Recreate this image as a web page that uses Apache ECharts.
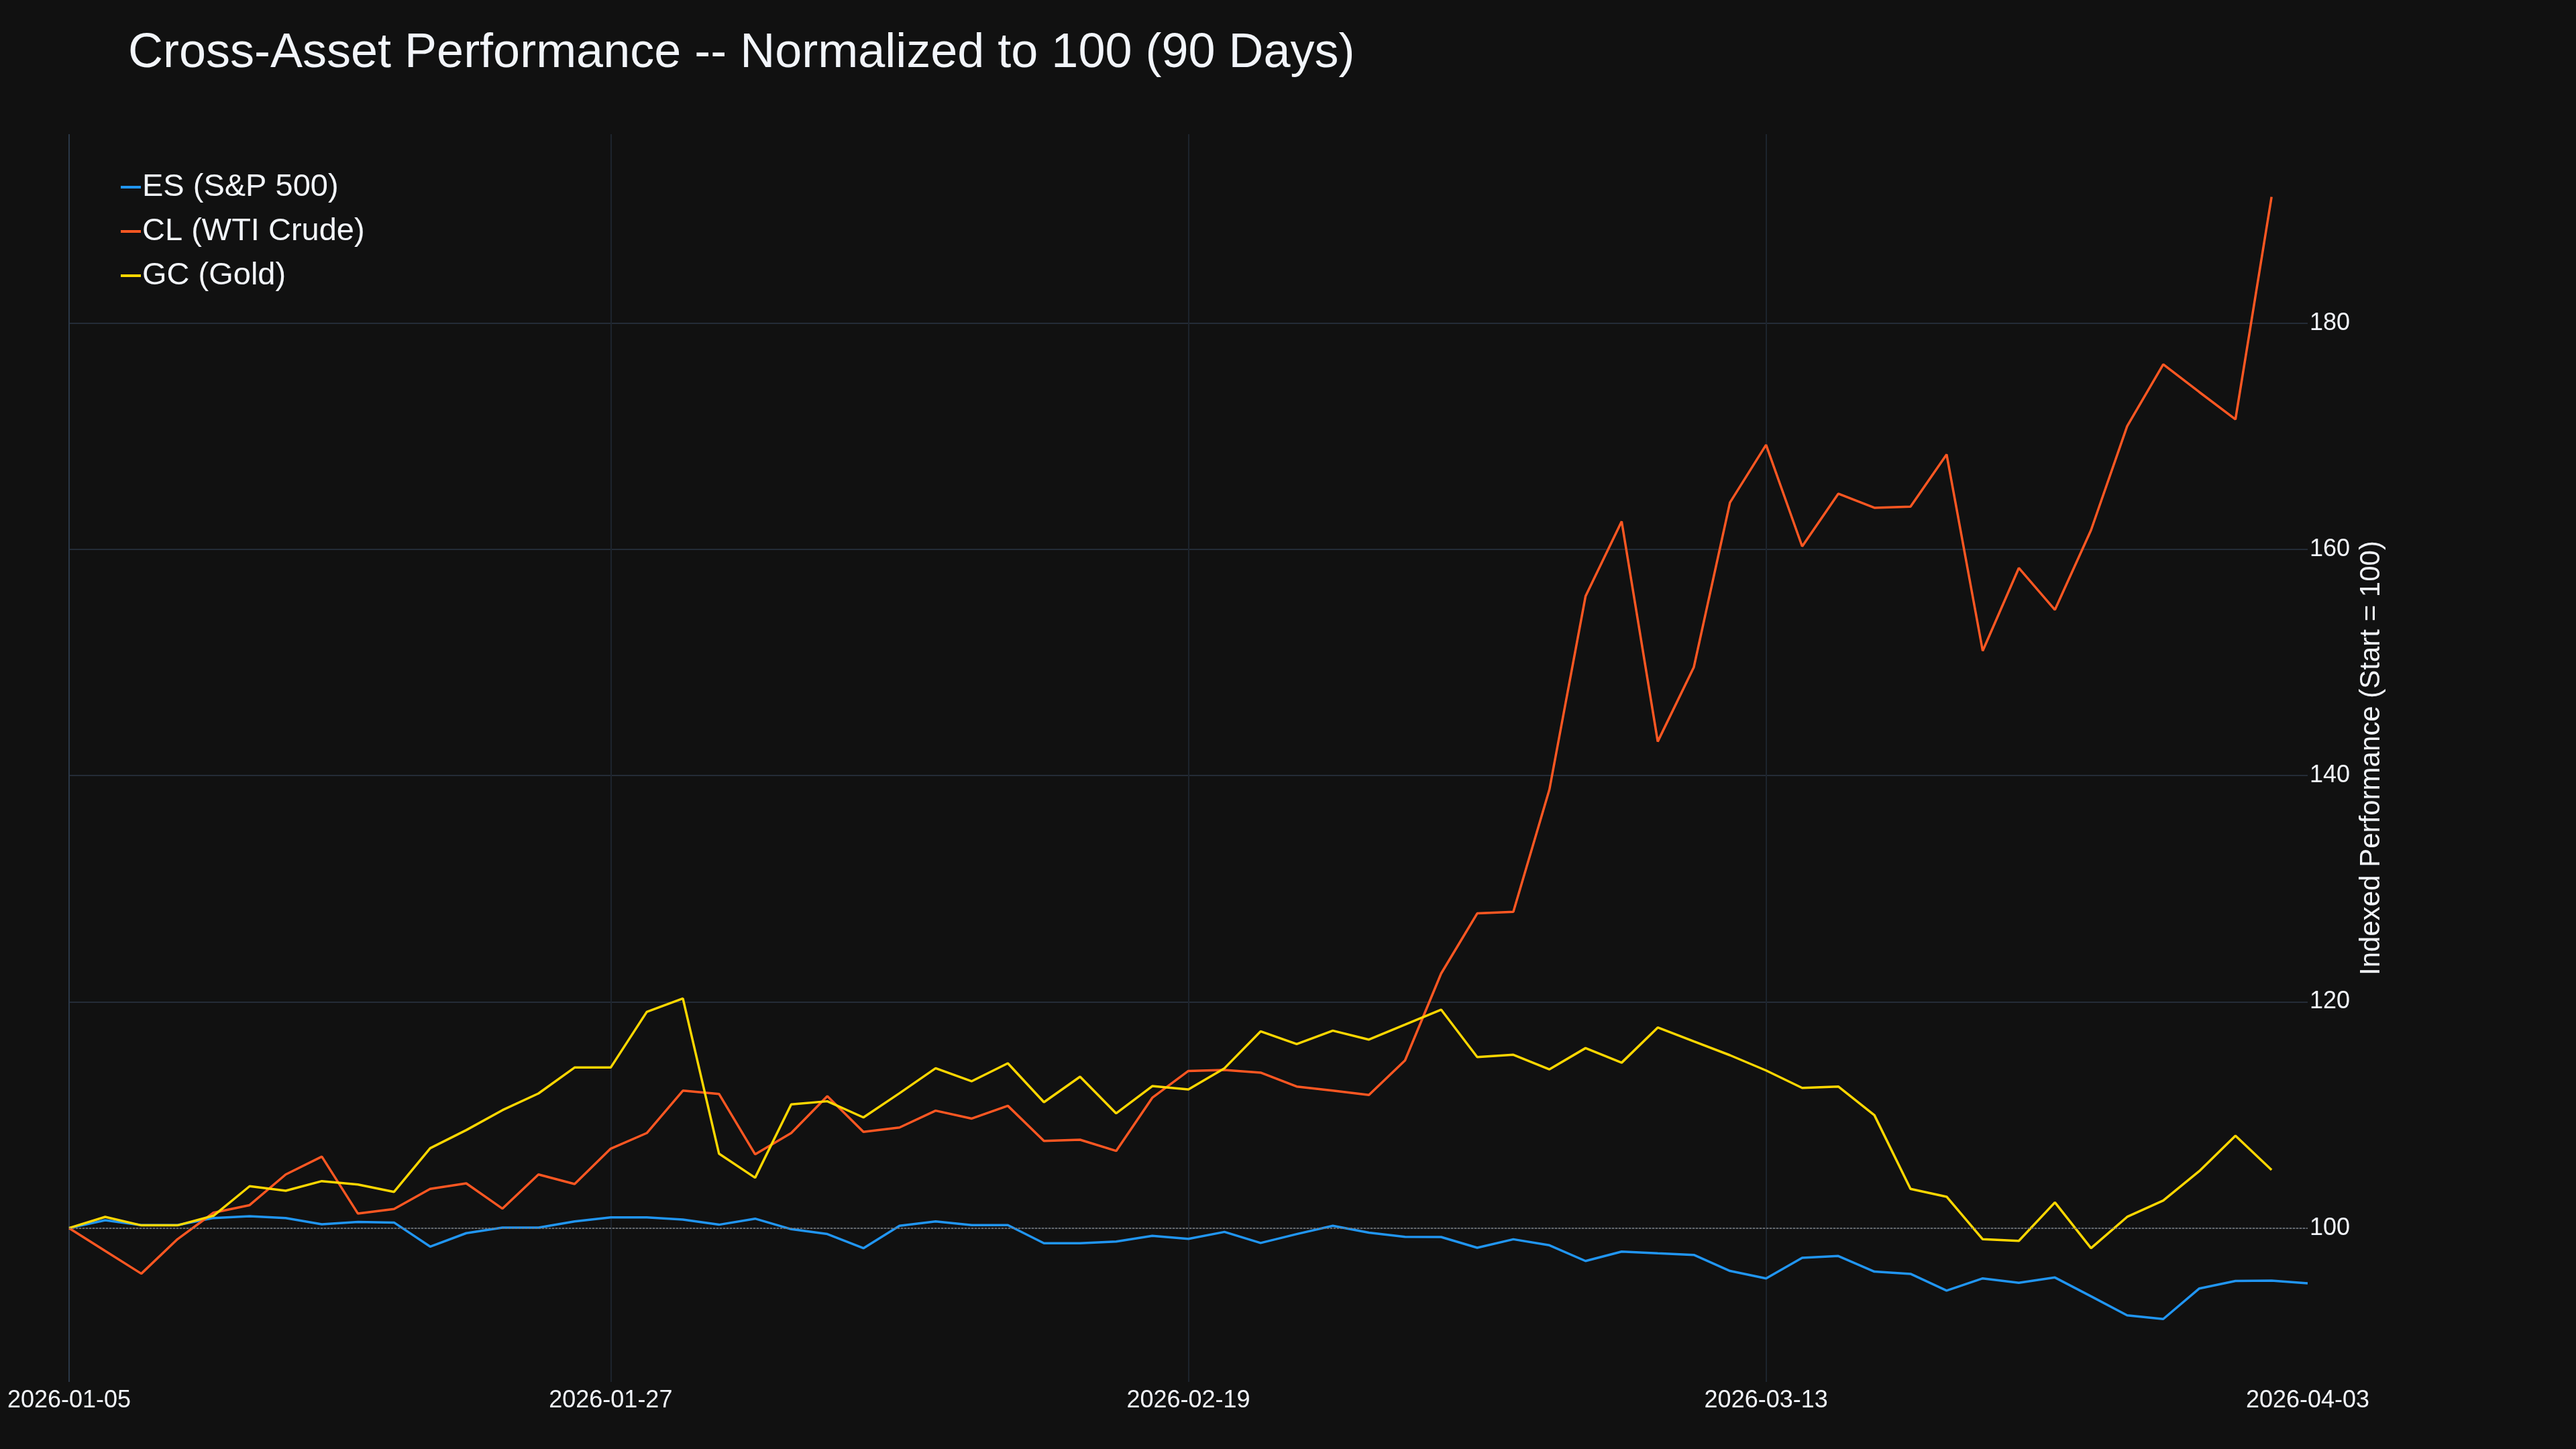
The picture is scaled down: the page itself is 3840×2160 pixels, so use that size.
<!DOCTYPE html>
<html>
<head>
<meta charset="utf-8">
<title>Cross-Asset Performance</title>
<script src="https://cdn.jsdelivr.net/npm/echarts@6/dist/echarts.min.js"></script>
<style>
    html, body { margin: 0; padding: 0; background: #111111; }
    #chart { width: 3840px; height: 2160px; }
</style>
</head>
<body>
<div id="chart"></div>
<script>
// trading days (Apr 3 only for ES)
const dates = [
    '2026-01-05', '2026-01-06', '2026-01-07', '2026-01-08', '2026-01-09',
    '2026-01-12', '2026-01-13', '2026-01-14', '2026-01-15', '2026-01-16',
    '2026-01-20', '2026-01-21', '2026-01-22', '2026-01-23',
    '2026-01-26', '2026-01-27', '2026-01-28', '2026-01-29', '2026-01-30',
    '2026-02-02', '2026-02-03', '2026-02-04', '2026-02-05', '2026-02-06',
    '2026-02-09', '2026-02-10', '2026-02-11', '2026-02-12', '2026-02-13',
    '2026-02-17', '2026-02-18', '2026-02-19', '2026-02-20',
    '2026-02-23', '2026-02-24', '2026-02-25', '2026-02-26', '2026-02-27',
    '2026-03-02', '2026-03-03', '2026-03-04', '2026-03-05', '2026-03-06',
    '2026-03-09', '2026-03-10', '2026-03-11', '2026-03-12', '2026-03-13',
    '2026-03-16', '2026-03-17', '2026-03-18', '2026-03-19', '2026-03-20',
    '2026-03-23', '2026-03-24', '2026-03-25', '2026-03-26', '2026-03-27',
    '2026-03-30', '2026-03-31', '2026-04-01', '2026-04-02', '2026-04-03'
];

const tickIndexes = [0, 15, 31, 47, 62];

const esValues = [
    100, 100.69, 100.26, 100.26, 100.89, 101.05, 100.89, 100.34, 100.55, 100.49,
    98.36, 99.55, 100.04, 100.04, 100.59, 100.95, 100.95, 100.75, 100.30, 100.83,
    99.90, 99.47, 98.22, 100.20, 100.59, 100.26, 100.26, 98.66, 98.66, 98.81,
    99.31, 99.05, 99.66, 98.68, 99.47, 100.20, 99.60, 99.23, 99.21, 98.26,
    99.01, 98.48, 97.09, 97.92, 97.77, 97.63, 96.21, 95.55, 97.37, 97.53,
    96.15, 95.95, 94.47, 95.55, 95.16, 95.63, 93.97, 92.29, 91.96, 94.66,
    95.32, 95.36, 95.12
];

const clValues = [
    100, 97.98, 95.97, 99.01, 101.36, 102.03, 104.74, 106.32, 101.28, 101.68,
    103.46, 103.95, 101.72, 104.74, 103.89, 107.02, 108.40, 112.15, 111.86, 106.52,
    108.40, 111.66, 108.50, 108.89, 110.38, 109.68, 110.81, 107.71, 107.81, 106.82,
    111.52, 113.89, 113.97, 113.74, 112.51, 112.15, 111.76, 114.82, 122.5, 127.82,
    127.96, 138.78, 155.85, 162.47, 143.01, 149.59, 164.14, 169.24, 160.26, 164.92,
    163.67, 163.77, 168.39, 151.02, 158.35, 154.65, 161.7, 170.88, 176.35, 173.9,
    171.49, 191.15
];

const gcValues = [
    100, 100.99, 100.24, 100.24, 101.09, 103.70, 103.30, 104.15, 103.85, 103.20,
    107.06, 108.66, 110.42, 111.90, 114.19, 114.19, 119.11, 120.30, 106.58, 104.45,
    110.93, 111.21, 109.78, 111.92, 114.13, 112.98, 114.57, 111.13, 113.38, 110.14,
    112.55, 112.25, 114.13, 117.39, 116.26, 117.45, 116.66, 117.98, 119.31, 115.12,
    115.32, 114.03, 115.91, 114.62, 117.73, 116.50, 115.28, 113.93, 112.39, 112.51,
    109.98, 103.46, 102.77, 99.01, 98.87, 102.27, 98.22, 100.99, 102.43, 105.04,
    108.16, 105.14
];

const seriesNames = ['ES (S&P 500)', 'CL (WTI Crude)', 'GC (Gold)'];
const seriesColors = ['#2196F3', '#FF5722', '#FFD700'];

const fontFamily = '"Liberation Sans", Arial, sans-serif';
const textColor = '#f2f5fa';

const chart = echarts.init(document.getElementById('chart'));
const isTick = (index) => tickIndexes.includes(index);

const option = {
    animation: false,
    backgroundColor: '#111111',
    title: {
        text: 'Cross-Asset Performance -- Normalized to 100 (90 Days)',
        left: 186,
        top: 39,
        textStyle: {
            color: textColor,
            fontFamily: fontFamily,
            fontSize: 72,
            fontWeight: 'normal'
        }
    },
    legend: {
        data: seriesNames,
        orient: 'vertical',
        left: 175,
        top: 250,
        icon: 'rect',
        itemWidth: 30,
        itemHeight: 4,
        itemGap: 18,
        textStyle: {
            color: textColor,
            fontFamily: fontFamily,
            fontSize: 47,
            lineHeight: 48,
            padding: [0, 0, 0, -3]
        }
    },
    grid: {
        left: 103,
        right: 400,
        top: 200,
        bottom: 100
    },
    xAxis: {
        type: 'category',
        data: dates,
        boundaryGap: false,
        axisLine: { show: false },
        axisTick: { show: false, interval: (i) => isTick(i) },
        axisLabel: {
            interval: (i) => isTick(i),
            margin: 10,
            color: textColor,
            fontFamily: fontFamily,
            fontSize: 36
        },
        splitLine: {
            show: true,
            interval: (i) => isTick(i),
            lineStyle: {
                color: ['#2b3848', '#1d242d', '#1d242d', '#1d242d', 'rgba(0,0,0,0)'],
                width: 2
            }
        }
    },
    yAxis: {
        type: 'value',
        position: 'right',
        min: 86.4,
        max: 196.7,
        splitNumber: 5,
        name: 'Indexed Performance (Start = 100)',
        nameLocation: 'middle',
        nameRotate: 90,
        nameGap: 72,
        nameTextStyle: {
            color: textColor,
            fontFamily: fontFamily,
            fontSize: 42
        },
        axisLine: { show: false },
        axisTick: { show: false },
        axisLabel: {
            margin: 3,
            showMinLabel: false,
            showMaxLabel: false,
            color: textColor,
            fontFamily: fontFamily,
            fontSize: 36
        },
        splitLine: {
            show: true,
            showMinLine: false,
            showMaxLine: false,
            lineStyle: { color: '#242c37', width: 2 }
        }
    },
    series: [
        {
            name: seriesNames[0],
            type: 'line',
            data: esValues,
            showSymbol: false,
            color: seriesColors[0],
            lineStyle: { width: 3.5 },
            markLine: {
                silent: true,
                symbol: 'none',
                label: { show: false },
                lineStyle: { color: '#7d7d7d', type: [3, 2], width: 1.5 },
                data: [{ yAxis: 100 }]
            }
        },
        {
            name: seriesNames[1],
            type: 'line',
            data: clValues,
            showSymbol: false,
            color: seriesColors[1],
            lineStyle: { width: 3.5 }
        },
        {
            name: seriesNames[2],
            type: 'line',
            data: gcValues,
            showSymbol: false,
            color: seriesColors[2],
            lineStyle: { width: 3.5 }
        }
    ]
};

chart.setOption(option);
</script>
</body>
</html>
